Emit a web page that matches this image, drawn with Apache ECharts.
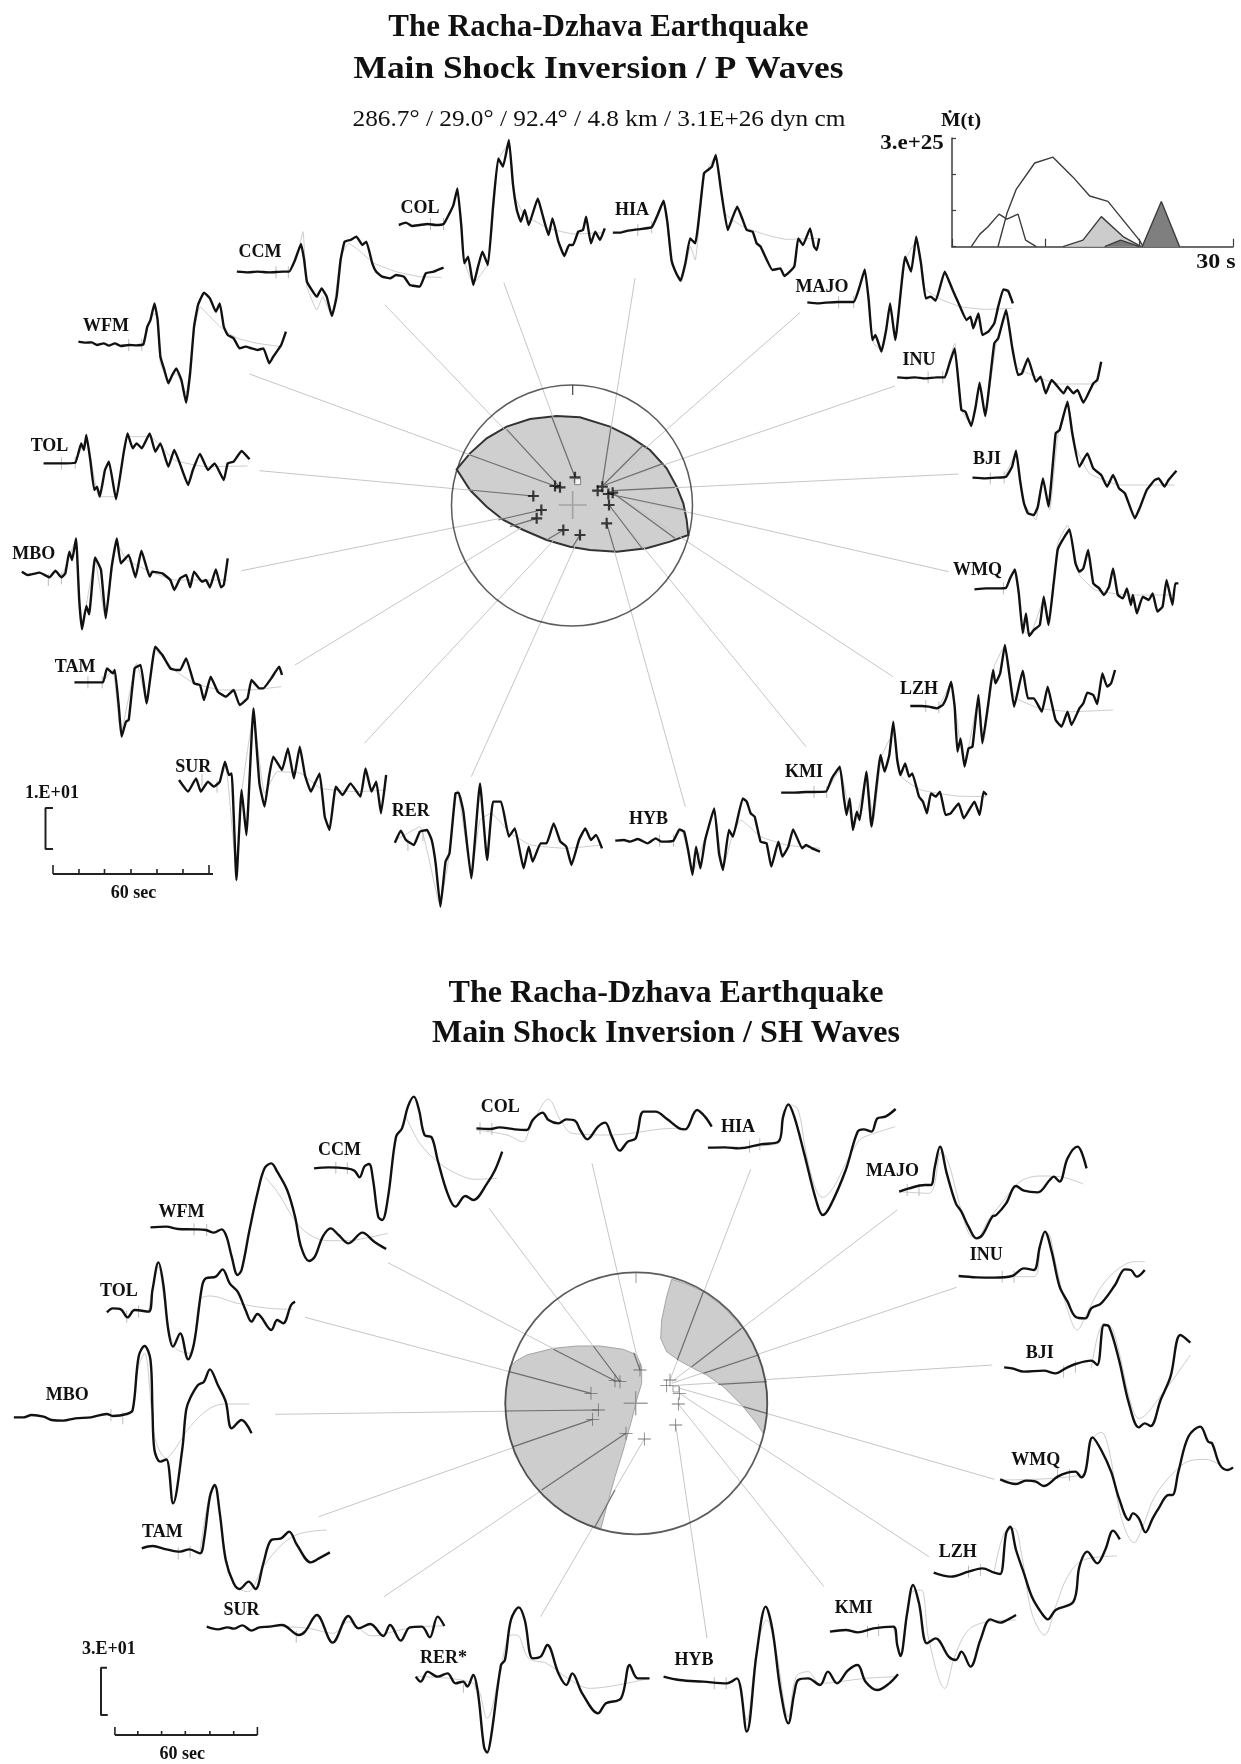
<!DOCTYPE html>
<html>
<head>
<meta charset="utf-8">
<title>The Racha-Dzhava Earthquake</title>
<script src="https://cdn.jsdelivr.net/npm/echarts@6/dist/echarts.min.js"></script>
<style>
html,body{margin:0;padding:0;background:#fff;}
#main{width:1241px;height:1764px;}
</style>
</head>
<body>
<div id="main"></div>
<script>
const ZX = 2.525, ZY = 3;
const A = [0,100], B = [620,90], C = [0,500], D = [620,500];
const E = [0,1060], F = [620,1060], G = [0,1400], H = [620,1400];

//---------- P waves: observed
const pWFM = [198,725,215,728,232,727,245,735,262,730,275,737,290,730,305,738,325,735,345,736,362,733,372,680,380,660,390,610,398,660,405,770,415,810,425,850,435,825,445,805,458,840,470,908,480,820,490,680,500,615,515,578,530,595,545,635,555,610,565,680,575,705,590,715,605,745,620,740,635,745,650,750,665,745,680,790,690,770,710,735,722,695];
const pCCM = [598,515,625,517,650,515,680,517,715,515,730,515,745,480,760,432,768,480,775,545,790,575,800,590,812,565,825,590,838,648,850,590,860,480,870,425,885,420,900,410,915,435,925,425,940,490,950,515,965,530,985,535,1000,525,1020,530,1035,555,1060,560,1075,520,1095,515,1120,503];
const pCOL = [1007,375,1025,368,1040,378,1060,375,1080,372,1100,375,1120,372,1135,340,1145,315,1155,265,1165,380,1172,490,1182,470,1195,555,1207,500,1218,455,1232,495,1245,320,1258,175,1270,200,1285,120,1295,250,1305,330,1315,365,1325,330,1335,375,1358,295,1370,345,1385,405,1395,355,1410,425,1425,468,1437,435,1447,435,1460,395,1472,390,1480,350,1492,430,1503,395,1515,420,1527,385];
const pHIA = [-18,428,0,428,20,422,45,418,80,412,95,375,110,332,120,400,130,510,142,550,153,572,165,520,177,445,190,460,212,250,222,240,232,230,242,195,255,300,272,420,285,380,296,350,310,390,320,420,335,425,345,460,355,470,385,540,405,535,415,558,440,530,450,445,462,465,480,415,490,470,497,480,503,445];
const pMAJO = [473,637,500,640,520,638,550,636,590,636,605,590,618,538,628,630,637,750,645,735,660,785,672,720,682,640,695,750,720,500,735,545,748,440,760,520,772,625,785,620,797,632,820,545,840,600,855,640,875,690,885,680,892,715,905,670,915,735,930,725,945,700,955,650,968,598,980,603,992,640];
const pINU = [700,862,725,864,745,862,770,865,800,862,820,862,832,820,845,775,855,880,862,960,872,965,887,1008,898,950,908,878,922,978,945,760,955,745,975,660,990,770,1005,855,1015,850,1030,805,1050,875,1062,860,1075,910,1090,870,1120,910,1130,890,1145,910,1155,900,1170,938,1195,880,1205,870,1215,815];
const pBJI = [890,1163,920,1165,950,1163,975,1160,990,1130,1000,1082,1010,1170,1020,1240,1030,1270,1045,1275,1055,1250,1068,1165,1082,1250,1100,1030,1110,1020,1130,935,1142,1030,1160,1130,1180,1090,1195,1135,1215,1155,1230,1190,1245,1155,1260,1195,1275,1210,1300,1285,1312,1255,1330,1200,1350,1170,1360,1165,1375,1190,1385,1170,1405,1142];
const pWMQ = [895,268,925,265,950,265,975,263,985,235,997,208,1007,280,1017,400,1025,340,1033,408,1045,390,1060,375,1070,290,1082,375,1095,250,1105,150,1115,125,1135,88,1150,190,1160,215,1170,205,1182,150,1195,250,1210,265,1222,285,1235,260,1245,205,1257,285,1270,295,1280,265,1290,315,1295,285,1305,340,1320,290,1335,300,1345,280,1357,335,1370,320,1380,240,1395,315,1402,250,1410,250];
const pLZH = [733,618,760,618,780,620,800,625,815,615,825,590,836,545,845,620,852,755,860,715,870,800,880,745,890,740,905,585,915,730,930,610,942,510,948,550,960,520,972,435,985,540,995,620,1017,512,1030,595,1045,595,1065,635,1080,560,1090,610,1100,660,1115,680,1130,635,1140,675,1160,625,1170,610,1180,578,1195,585,1205,612,1218,520,1230,560,1240,550,1250,510];
const pKMI = [407,878,440,878,470,876,520,875,535,835,555,800,565,890,572,945,580,895,588,990,598,935,605,960,622,815,635,980,658,765,668,815,680,765,690,665,700,780,708,825,720,790,730,830,738,820,755,890,765,905,775,940,785,880,797,890,808,875,822,945,835,940,855,910,868,955,895,905,908,945,918,875,926,885];
const pHYB = [-12,1022,10,1020,25,1025,45,1017,70,1030,90,1015,105,1025,135,1022,150,988,162,995,172,1050,183,1125,192,1040,203,1105,215,1020,238,925,250,1060,260,1110,275,990,285,1010,310,895,320,905,330,940,340,950,355,1025,370,1030,382,1100,400,1025,410,1070,425,1040,437,988,460,1045,470,1035,485,1045,505,1055];
const pRER = [997,1028,1012,992,1025,1020,1045,1035,1060,995,1078,990,1090,1020,1100,1090,1112,1220,1125,1085,1135,1060,1150,880,1158,878,1170,935,1190,1135,1212,850,1230,1080,1245,905,1265,905,1285,1010,1300,985,1322,1105,1335,1040,1345,1085,1365,1030,1380,1030,1398,970,1415,1025,1430,1040,1443,1095,1462,1020,1478,985,1492,1020,1505,1005,1520,1045];
const pSUR = [452,840,475,875,495,835,507,875,525,845,540,860,555,845,568,785,578,825,585,820,597,1140,610,870,622,1005,640,625,655,850,668,920,680,825,690,770,712,810,727,745,742,835,757,740,770,825,785,875,795,850,807,820,820,950,832,990,848,860,865,885,885,850,910,890,923,805,938,875,950,845,962,940,975,825];
const pTAM = [188,547,220,547,260,547,270,505,285,520,290,510,300,620,307,710,318,665,325,660,340,505,355,495,370,610,392,440,410,465,430,505,445,510,455,510,470,475,490,550,505,555,515,600,532,530,550,575,570,590,590,570,605,615,625,595,635,540,655,565,665,565,685,535,705,500,712,525];
const pMBO = [55,215,70,225,100,218,125,232,140,212,155,232,165,220,175,155,182,180,192,115,200,300,207,388,218,318,225,343,240,172,255,210,267,355,282,200,295,115,305,190,325,165,342,232,357,152,378,230,385,215,410,220,430,240,440,270,455,235,470,225,480,262,490,215,510,245,520,240,530,262,545,208,558,262,565,255,575,175];
const pTOL = [110,1090,150,1090,190,1088,205,1030,212,1050,218,1005,228,1080,238,1170,245,1160,252,1190,265,1110,275,1085,293,1198,312,1060,322,1000,335,1045,345,1030,358,1045,378,1000,392,1055,405,1030,425,1100,440,1050,460,1110,475,1155,487,1110,505,1062,525,1110,542,1090,565,1140,575,1090,590,1085,610,1053,630,1078];

//---------- P waves: synthetic
const pmWFM = [362,733,380,650,395,640,405,790,425,840,445,820,470,880,490,690,505,620,530,650,565,690,600,715,650,730,710,740];
const pmCCM = [730,515,750,470,765,395,775,560,800,630,815,590,838,650,860,470,880,430,905,450,945,490,1000,515,1060,530,1115,532];
const pmCOL = [1125,370,1155,280,1172,480,1195,550,1232,490,1258,180,1285,130,1300,290,1325,345,1385,385,1450,402,1520,398];
const pmHIA = [80,412,110,330,130,520,155,575,178,470,190,510,212,260,240,200,265,370,310,410,370,435,420,448,500,445];
const pmMAJO = [590,636,618,545,640,760,662,780,682,650,695,750,720,510,750,450,770,595,810,628,860,650,920,658,990,655];
const pmINU = [820,862,845,760,862,960,887,1005,908,880,922,975,950,760,975,680,1000,830,1050,860,1110,882,1205,882];
const pmBJI = [970,1162,1000,1090,1020,1240,1050,1290,1068,1170,1085,1260,1105,1040,1130,935,1150,1070,1185,1150,1260,1185,1400,1185];
const pmWMQ = [975,263,997,210,1017,390,1035,405,1070,300,1085,370,1105,130,1130,75,1160,225,1200,270,1280,285,1400,285];
const pmLZH = [805,622,836,550,860,740,870,790,905,600,918,725,945,500,972,435,995,590,1060,625,1140,635,1245,630];
const pmKMI = [522,875,555,810,590,985,622,830,640,960,660,770,690,700,710,830,760,870,850,888,925,890];
const pmHYB = [135,1022,155,990,185,1110,238,935,260,1105,285,1000,305,960,355,1010,420,1035,505,1045];
const pmRER = [1000,1020,1060,980,1110,1210,1130,1100,1155,870,1190,1120,1212,960,1240,940,1290,1000,1340,1035,1430,1045,1520,1035];
const pmSUR = [548,860,570,800,597,1120,610,880,640,650,668,880,700,815,760,820,810,865,900,875,975,870];
const pmTAM = [258,547,285,510,305,700,345,490,370,600,392,450,440,510,490,550,560,570,630,570,710,560];
const pmMBO = [155,235,190,125,207,380,240,180,265,350,295,130,320,180,380,215,440,240,520,240,575,240];
const pmTOL = [190,1088,218,1015,250,1190,293,1190,322,1010,380,1010,440,1080,520,1100,625,1098];

//---------- SH waves: observed
const sWFM = [380,502,420,500,450,507,490,508,520,510,540,518,560,508,572,530,585,590,600,645,610,630,630,510,650,400,668,325,685,310,700,335,725,390,745,470,760,560,780,603,795,590,815,530,835,505,855,525,880,550,915,518,945,545,975,567];
const sCCM = [793,325,830,322,875,325,895,332,908,352,920,320,932,312,942,360,955,470,965,480,980,410,1000,230,1015,205,1030,140,1045,110,1058,150,1072,225,1090,232,1105,300,1130,400,1150,440,1175,408,1195,420,1230,370,1250,330,1268,275];
const sCOL = [1203,205,1240,207,1260,202,1300,208,1330,210,1345,180,1370,158,1385,180,1410,190,1430,178,1452,182,1465,210,1483,238,1510,200,1528,188,1545,230,1565,272,1585,245,1605,235,1625,155,1655,155,1685,178,1715,205,1730,208,1760,150,1780,170,1797,200];
const sHIA = [222,263,265,262,300,265,355,253,400,245,412,170,425,133,440,170,465,280,495,420,512,465,530,440,570,330,600,215,615,208,635,215,650,175,670,170,696,147];
const sMAJO = [705,395,730,385,770,375,785,375,795,320,808,260,825,340,848,430,862,455,880,500,900,535,915,525,940,470,950,465,975,430,1000,378,1020,392,1055,397,1085,360,1095,350,1110,365,1130,295,1155,260,1165,275,1178,325];
const sINU = [855,648,900,652,945,653,990,648,1020,625,1045,630,1060,560,1073,515,1090,575,1110,680,1130,725,1150,770,1175,775,1190,745,1215,730,1250,675,1275,628,1290,630,1305,650,1325,630];
const sBJI = [970,922,990,925,1020,935,1070,932,1100,940,1125,925,1150,912,1190,902,1205,915,1222,795,1235,800,1260,900,1285,1030,1310,1102,1325,1090,1340,1098,1365,1020,1390,950,1415,825,1440,848];
const sWMQ = [960,238,1000,252,1025,242,1050,245,1070,258,1105,230,1130,218,1150,215,1165,232,1175,215,1193,112,1215,150,1240,215,1260,295,1285,360,1295,340,1310,355,1327,397,1345,355,1360,325,1385,285,1395,285,1410,215,1435,110,1465,80,1485,125,1495,130,1515,195,1535,210,1548,202];
const sLZH = [792,518,835,530,880,515,915,505,945,518,960,522,975,400,985,380,1000,450,1020,520,1040,590,1065,640,1080,658,1100,630,1145,605,1160,500,1180,455,1205,490,1225,450,1245,392,1262,418];
const sKMI = [530,695,570,690,600,697,640,685,690,680,700,735,708,768,725,640,740,555,755,610,775,730,797,715,830,770,848,780,862,755,885,800,910,720,935,658,960,668,985,655,1000,645];
const sHYB = [110,830,150,840,210,845,270,850,295,835,320,995,345,760,368,620,385,690,405,870,425,970,440,880,450,840,475,835,505,855,525,815,548,850,575,812,600,795,620,845,650,870,680,850,702,823];
const sRER = [1050,830,1062,845,1080,815,1105,830,1130,820,1150,850,1170,845,1180,860,1195,825,1207,880,1222,1040,1230,1058,1240,1010,1265,795,1275,780,1290,660,1310,622,1325,660,1345,775,1365,770,1382,735,1410,820,1430,855,1445,820,1470,880,1510,940,1530,910,1568,895,1590,795,1610,835,1640,835];
const sSUR = [522,680,550,688,575,682,590,686,612,676,635,692,655,682,680,680,712,675,755,705,770,695,800,645,840,728,880,648,905,685,935,672,968,708,985,675,1012,722,1035,682,1065,680,1085,712,1105,650,1122,678];
const sTAM = [358,445,385,438,420,448,455,455,478,448,505,460,515,420,530,290,542,255,555,340,570,480,590,550,605,567,628,545,645,567,665,490,685,420,710,415,730,395,750,435,785,487,810,472,833,457];
const sMBO = [35,52,60,52,80,45,110,50,130,60,160,62,190,55,230,52,270,42,285,48,320,42,335,30,350,-130,365,-162,380,-120,385,30,390,150,405,185,420,178,437,310,460,150,470,30,480,-5,500,-45,515,-55,530,-92,550,-45,570,5,585,85,610,60,635,100];
const sTOL = [270,757,285,745,305,748,322,772,340,750,375,755,385,690,400,607,412,670,425,810,437,860,455,820,475,898,490,850,510,680,520,655,545,650,562,628,580,670,600,695,620,750,635,785,650,762,685,810,700,780,715,790,735,735,745,725];

//---------- SH waves: synthetic
const smWFM = [668,350,700,395,750,490,790,530,830,542,880,542,920,535,980,520];
const smCCM = [1025,170,1060,250,1110,310,1160,345,1200,358,1255,355];
const smCOL = [1203,210,1280,225,1320,245,1340,200,1385,118,1415,180,1445,220,1540,225,1580,222,1700,205,1730,205];
const smHIA = [222,263,400,250,412,160,430,135,450,150,470,280,495,390,512,412,540,380,570,310,605,240,630,225,695,200];
const smMAJO = [705,395,780,400,812,275,830,310,850,400,880,520,900,535,930,480,970,420,1010,365,1060,348,1110,350,1170,372];
const smINU = [990,650,1045,650,1065,540,1080,520,1100,610,1125,730,1155,810,1175,770,1215,680,1260,625,1300,605,1325,605];
const smBJI = [1190,925,1222,790,1245,810,1290,1030,1310,1075,1370,1000,1440,885];
const smWMQ = [960,240,1165,225,1190,120,1215,97,1235,150,1265,350,1298,428,1320,380,1350,290,1400,215,1440,182,1480,178,1515,195];
const smLZH = [945,515,970,400,995,385,1015,470,1040,640,1072,705,1100,620,1130,530,1170,480,1255,468];
const smKMI = [690,680,708,760,735,580,760,570,780,720,820,865,845,770,880,690,930,665,1000,660];
const smHYB = [300,840,320,960,345,750,370,660,395,760,425,950,445,830,475,815,505,850,620,835,700,830];
const smRER = [1050,830,1195,850,1230,955,1260,830,1290,705,1305,705,1335,775,1380,790,1440,840,1490,865,1560,855,1640,835];
const smSUR = [712,680,780,685,840,700,880,665,940,708,1010,690,1060,680,1120,678];
const smTAM = [505,455,530,280,545,260,560,400,590,550,625,575,665,500,715,430,760,400,825,390];
const smMBO = [335,40,350,-100,365,-140,385,60,395,130,420,175,440,150,480,80,530,25,570,12,630,12];
const smTOL = [375,755,400,620,415,720,440,860,480,880,505,720,530,708,600,730,680,745,740,748];

// station, crop, observed, synthetic, onset ticks
const pStations = [
  ['WFM',A,pWFM,pmWFM,[325,735,358,735]],['CCM',A,pCCM,pmCCM,[697,517,728,517]],
  ['COL',A,pCOL,pmCOL,[1087,372,1120,372]],['HIA',B,pHIA,pmHIA,[45,420,80,412]],
  ['MAJO',B,pMAJO,pmMAJO,[552,637,590,636]],['INU',B,pINU,pmINU,[778,862,815,862]],
  ['BJI',B,pBJI,pmBJI,[935,1165,970,1162]],['WMQ',D,pWMQ,pmWMQ,[968,265]],
  ['LZH',D,pLZH,pmLZH,[772,618,805,622]],['KMI',D,pKMI,pmKMI,[490,876,522,876]],
  ['HYB',D,pHYB,pmHYB,[100,1022,135,1022]],['RER',C,pRER,pmRER,[1030,1035,1068,1005]],
  ['SUR',C,pSUR,pmSUR,[510,840,548,860]],['TAM',C,pTAM,pmTAM,[222,547,258,547]],
  ['MBO',C,pMBO,pmMBO,[122,240,155,235]],['TOL',A,pTOL,pmTOL,[155,1090,190,1088]]
];
const sStations = [
  ['WFM',E,sWFM,smWFM,[490,508,522,510]],['CCM',E,sCCM,smCCM,[848,323,877,325]],
  ['COL',E,sCOL,smCOL,[1212,205,1242,207]],['HIA',F,sHIA,smHIA,[327,260,353,253]],
  ['MAJO',F,sMAJO,smMAJO,[725,390,755,390]],['INU',F,sINU,smINU,[965,650,995,650]],
  ['BJI',F,sBJI,smBJI,[1120,935,1150,920]],['WMQ',H,sWMQ,smWMQ,[1105,220,1135,225]],
  ['LZH',H,sLZH,smLZH,[880,515,910,510]],['KMI',H,sKMI,smKMI,[625,695,653,690]],
  ['HYB',H,sHYB,smHYB,[238,850,268,850]],['RER*',G,sRER,smRER,[1170,860,1200,850]],
  ['SUR',G,sSUR,smSUR,[748,710]],['TAM',G,sTAM,smTAM,[450,460,480,455]],
  ['MBO',G,sMBO,smMBO,[280,45,310,55]],['TOL',E,sTOL,smTOL,[320,770,350,755]]
];

//---------- focal spheres, crop units of the 3x zooms
const P_ORIGIN = [430,370], SH_ORIGIN = [490,1260];
const pLobe = [80,298,120,250,170,205,230,170,300,147,380,138,450,142,540,170,600,200,660,240,710,295,740,350,760,400,770,450,775,495,720,515,650,535,560,545,480,540,420,530,350,510,280,480,220,450,170,410,120,360];
const shLobeL = [60,320,75,305,110,285,190,265,260,258,330,258,400,268,440,285,455,320,455,370,440,420,425,480,400,570,375,650,350,740,333,805,270,786,210,750,155,700,110,645,75,585,55,520,45,430,50,370];
const shLobeR = [545,58,530,110,515,180,512,235,530,275,565,300,610,325,650,345,700,380,760,440,800,490,820,520,830,460,832,400,815,320,790,255,755,200,700,140,640,95,590,72];
const pPlus = [435,322,375,348,390,352,517,350,503,362,535,372,548,368,537,405,530,460,450,495,400,480,320,445,334,420,310,378];
const shPlus = [375,362,390,365,450,330,303,400,325,450,308,478,408,520,463,537,540,360,530,377,568,400,565,432,557,495];

// rays: outer end then station, page pixels
const pRays = [[503.8,282.7,575,477.3],[385,305,560,487.3],[249.5,374,555,486],[259.4,470.7,533.3,496],[241.6,570.7,541.3,510],[295,665,536.7,518.3],[364.4,743.3,563.3,530],[471.3,776.7,580,535],[685.3,806.7,606.7,523.3],[806,746.7,609,505],[893,676.7,612.7,492.7],[948.7,571.7,608.3,494],[958.6,474,612.7,490.7],[895,386,605,485],[800,312.7,603.3,485],[635,278.3,602.3,483.3]];
const shRays = [[592,1163.3,640,1370],[489,1208.3,620,1381.7],[388,1262.7,615,1380.7],[305,1317.3,591,1393.3],[275.2,1414.3,598.3,1410],[318.8,1516.7,592.7,1419.3],[384,1596.7,626,1433.3],[540.6,1616.7,644.3,1439],[707,1638.3,675.7,1425],[824,1586.7,678.3,1404],[928.9,1556.7,679.3,1393.3],[994.3,1479.3,680,1388.3],[992.3,1365,671.7,1385.7],[956.6,1287.3,671.7,1383.3],[897.2,1210,671.7,1381.7],[750.7,1169.3,670,1380]];
// the parts of the rays that run across the shaded lobes, crop units
const pRaysDark = [[365,140,435,322],[230,178,390,352],[120,255,375,348],[118,360,310,378],[205,450,334,420],[240,470,320,445],[350,510,400,480],[428,530,450,495],[555,545,530,460],[640,540,537,405],[735,505,548,368],[765,420,535,372],[735,352,548,362],[700,280,525,345],[640,225,520,345],[543,170,517,340]];
const shRaysDark = [[431,278,450,330],[310,258,390,365],[190,268,375,362],[58,335,303,400],[45,453,325,450],[70,560,308,478],[155,690,408,520],[315,800,375,690],[640,95,562,300],[755,205,605,320],[805,285,640,340],[830,365,685,373],[830,460,760,440]];

//---------- source time function, t in s, rate in 1e25
const stfEarlyT = [2.06,2.95,3.84,5.02,5.87,7.05,7.86,9.0];
const stfEarly = [0,0.34,0.55,0.90,0.76,0.90,0.18,0];
const stfMainT = [4.91,5.87,6.87,8.83,10.78,12.92,14.7,16.65,20.0,20.4];
const stfMain = [0,0.92,1.59,2.31,2.47,1.92,1.40,1.25,0.18,0];
const stfLightT = [11.85,13.98,15.94,18.26,20.2];
const stfLight = [0,0.18,0.83,0.28,0];
const stfMidT = [16.3,18.0,20.0];
const stfMid = [0,0.18,0];
const stfDarkT = [20.3,22.35,24.3];
const stfDark = [0,1.25,0];

function cropPts(list, org, zx, zy) {
    let out = [];
    for (let i = 0; i < list.length; i += 2) {
        out.push([org[0] + list[i] / zx, org[1] + list[i + 1] / zy]);
    }
    return out;
}

function zipPts(a, b) {
    return a.map(function (v, i) { return [v, b[i]]; });
}

function lineSeries(data, color, width, z, smooth, extra) {
    return Object.assign({
        type: 'line', data: data, xAxisIndex: 0, yAxisIndex: 0,
        showSymbol: false, symbol: 'none', silent: true, animation: false, z: z,
        smooth: smooth || false,
        lineStyle: { color: color, width: width }
    }, extra || {});
}

function polySeries(points, fill, stroke, width, z) {
    return {
        type: 'custom', xAxisIndex: 0, yAxisIndex: 0, silent: true, animation: false, z: z,
        clip: false, data: [points[0]],
        renderItem: function (params, api) {
            return {
                type: 'polygon',
                shape: { points: points.map(function (p) { return api.coord(p); }) },
                style: { fill: fill, stroke: stroke, lineWidth: width }
            };
        }
    };
}

function markSeries(data, path, size, color, z) {
    return {
        type: 'scatter', xAxisIndex: 0, yAxisIndex: 0, silent: true, animation: false, z: z,
        symbol: path, symbolSize: size, data: data, itemStyle: { color: color }
    };
}

const PLUS_BOLD = 'path://M-1,-5L1,-5L1,-1L5,-1L5,1L1,1L1,5L-1,5L-1,1L-5,1L-5,-1L-1,-1Z';
const PLUS_THIN = 'path://M-0.3,-5L0.3,-5L0.3,-0.3L5,-0.3L5,0.3L0.3,0.3L0.3,5L-0.3,5L-0.3,0.3L-5,0.3L-5,-0.3L-0.3,-0.3Z';

let series = [];

function addStations(list, smooth) {
    list.forEach(function (st) {
        let org = st[1];
        series.push(lineSeries(cropPts(st[3], org, ZX, ZY), '#cccccc', 1, 3, smooth));
        series.push(lineSeries(cropPts(st[2], org, ZX, ZY), '#111111', 2.4, 5, smooth));
        let tk = st[4];
        for (let i = 0; i < tk.length; i += 2) {
            let x = org[0] + tk[i] / ZX, y = org[1] + tk[i + 1] / ZY;
            series.push(lineSeries([[x, y - 6], [x, y + 6]], '#bbbbbb', 1, 4));
        }
    });
}
addStations(pStations, 0.12);
addStations(sStations, 0.35);

// rays under the lobes' outline
pRays.concat(shRays).forEach(function (r) {
    series.push(lineSeries([[r[0], r[1]], [r[2], r[3]]], '#c6c6c6', 1, 2));
});

// lobes
series.push(polySeries(cropPts(pLobe, P_ORIGIN, 3, 3), '#cfcfcf', '#333333', 2, 1));
series.push(polySeries(cropPts(shLobeL, SH_ORIGIN, 3, 3), '#cdcdcd', '#a5a5a5', 1, 1));
series.push(polySeries(cropPts(shLobeR, SH_ORIGIN, 3, 3), '#cdcdcd', '#a5a5a5', 1, 1));

pRaysDark.forEach(function (r) {
    series.push(lineSeries(cropPts(r, P_ORIGIN, 3, 3), '#6e6e6e', 1.2, 6));
});
shRaysDark.forEach(function (r) {
    series.push(lineSeries(cropPts(r, SH_ORIGIN, 3, 3), '#6e6e6e', 1.2, 6));
});

// spheres
series.push({
    type: 'scatter', xAxisIndex: 0, yAxisIndex: 0, silent: true, animation: false, z: 7,
    symbol: 'circle', symbolSize: 241, data: [[572, 505.5]],
    itemStyle: { color: 'rgba(0,0,0,0)', borderColor: '#333333', borderWidth: 1.5 }
});
series.push({
    type: 'scatter', xAxisIndex: 0, yAxisIndex: 0, silent: true, animation: false, z: 7,
    symbol: 'circle', symbolSize: 262, data: [[636.3, 1403.3]],
    itemStyle: { color: 'rgba(0,0,0,0)', borderColor: '#333333', borderWidth: 1.8 }
});
series.push(lineSeries([[572.7, 385], [572.7, 395]], '#444444', 1.2, 7));
series.push(lineSeries([[636, 1273], [636, 1283]], '#999999', 1, 7));

// station crosses, centre crosses, open squares
series.push(markSeries(cropPts(pPlus, P_ORIGIN, 3, 3), PLUS_BOLD, 11, '#111111', 8));
series.push(markSeries(cropPts(shPlus, SH_ORIGIN, 3, 3), PLUS_THIN, 13, '#555555', 8));
series.push(markSeries(cropPts([428, 405], P_ORIGIN, 3, 3), PLUS_THIN, 28, '#999999', 6));
series.push(markSeries(cropPts([437, 430], SH_ORIGIN, 3, 3), PLUS_THIN, 24, '#888888', 6));
series.push({
    type: 'scatter', xAxisIndex: 0, yAxisIndex: 0, silent: true, animation: false, z: 8,
    symbol: 'rect', symbolSize: 6, data: cropPts([443, 335], P_ORIGIN, 3, 3),
    itemStyle: { color: '#ffffff', borderColor: '#666666', borderWidth: 1 }
});
series.push({
    type: 'scatter', xAxisIndex: 0, yAxisIndex: 0, silent: true, animation: false, z: 8,
    symbol: 'rect', symbolSize: 6, data: cropPts([558, 387], SH_ORIGIN, 3, 3),
    itemStyle: { color: 'rgba(255,255,255,0)', borderColor: '#888888', borderWidth: 1 }
});

// scale bars
series.push(lineSeries([[53, 808], [45.5, 808], [45.5, 849], [53, 849]], '#222222', 2, 5));
series.push(lineSeries([[53, 874], [213, 874]], '#222222', 2, 5));
[53, 79, 104.5, 131, 157, 183, 209].forEach(function (x, i) {
    let h = (i === 0 || i === 6) ? 9 : 5;
    series.push(lineSeries([[x, 874], [x, 874 - h]], '#222222', 1.6, 5));
});
series.push(lineSeries([[107, 1667.7], [101, 1667.7], [101, 1715], [107.7, 1715]], '#222222', 2, 5));
series.push(lineSeries([[114.9, 1735], [257.4, 1735]], '#222222', 2, 5));
[114.9, 137.8, 161.6, 185.3, 209.9, 233.7, 257.4].forEach(function (x, i) {
    let h = (i === 0 || i === 6) ? 8 : 4;
    series.push(lineSeries([[x, 1735], [x, 1735 - h]], '#222222', 1.6, 5));
});

// source time function, second grid
function stfSeries(t, v, fill, z) {
    let s = {
        type: 'line', data: zipPts(t, v), xAxisIndex: 1, yAxisIndex: 1,
        showSymbol: false, symbol: 'none', silent: true, animation: false, z: z,
        lineStyle: { color: '#3c3c3c', width: 1.4 }
    };
    if (fill) { s.areaStyle = { color: fill, opacity: 1 }; }
    return s;
}
series.push(stfSeries(stfEarlyT, stfEarly, null, 4));
series.push(stfSeries(stfMainT, stfMain, null, 4));
series.push(stfSeries(stfLightT, stfLight, '#cccccc', 5));
series.push(stfSeries(stfMidT, stfMid, '#7a7a7a', 6));
series.push(stfSeries(stfDarkT, stfDark, '#7f7f7f', 6));

//---------- text
function txt(str, x, y, size, sx, weight) {
    return {
        type: 'text', x: x, y: y, scaleX: sx || 1, silent: true, z: 20,
        style: {
            text: str, x: 0, y: 0, fill: '#111111',
            font: (weight || 'bold') + ' ' + size + 'px "Liberation Serif", serif',
            align: 'center', verticalAlign: 'middle'
        }
    };
}

const pLabelPos = { WFM: [106, 326], CCM: [260, 252.7], COL: [420, 208.7], HIA: [632, 210], MAJO: [822, 287.7], INU: [919, 360], BJI: [987, 459.3], WMQ: [977.6, 570.3], LZH: [919, 689.3], KMI: [804, 772], HYB: [648.5, 819.3], RER: [410.7, 811.3], SUR: [193.3, 767], TAM: [75.2, 667], MBO: [33.7, 554.3], TOL: [49.5, 446] };
const sLabelPos = { WFM: [181.4, 1212], CCM: [339.4, 1150.3], COL: [500.2, 1107.7], HIA: [738, 1127], MAJO: [892.5, 1171], INU: [986.3, 1255.3], BJI: [1039.8, 1353.7], WMQ: [1035.8, 1460.3], LZH: [957.8, 1552], KMI: [853.7, 1608.7], HYB: [694, 1660.3], 'RER*': [443.6, 1658.7], SUR: [241.6, 1610.3], TAM: [162.4, 1532], MBO: [67.3, 1395.3], TOL: [118.8, 1291.3] };

let texts = [
    txt('The Racha-Dzhava Earthquake', 598.5, 28, 31, 1.0),
    txt('Main Shock Inversion / P Waves', 598.5, 70, 31, 1.14),
    txt('286.7\u00b0 / 29.0\u00b0 / 92.4\u00b0 / 4.8 km / 3.1E+26 dyn cm', 599, 120, 23, 1.1, 'normal'),
    txt('The Racha-Dzhava Earthquake', 666, 994, 31, 1.035),
    txt('Main Shock Inversion / SH Waves', 666, 1034, 31, 1.035),
    txt('\u1e40(t)', 961, 121.7, 18, 1.15),
    txt('3.e+25', 912, 144, 20, 1.15),
    txt('30 s', 1216, 262.7, 20, 1.2),
    txt('1.E+01', 52, 793, 18),
    txt('60 sec', 133.5, 893.3, 18),
    txt('3.E+01', 108.9, 1649.3, 18),
    txt('60 sec', 182.2, 1754, 18)
];
Object.keys(pLabelPos).forEach(function (k) { texts.push(txt(k, pLabelPos[k][0], pLabelPos[k][1], 18)); });
Object.keys(sLabelPos).forEach(function (k) { texts.push(txt(k, sLabelPos[k][0], sLabelPos[k][1], 18)); });

const stfAxisLine = { show: true, onZero: false, lineStyle: { color: '#3c3c3c', width: 1.5 } };

var myChart = echarts.init(document.getElementById('main'), null, { renderer: 'canvas' });
myChart.setOption({
    animation: false,
    backgroundColor: '#ffffff',
    grid: [
        { left: 0, top: 0, width: 1241, height: 1764 },
        { left: 952, top: 138, width: 281, height: 108.7, z: 3 }
    ],
    xAxis: [
        { type: 'value', min: 0, max: 1241, show: false, gridIndex: 0 },
        { type: 'value', min: 0, max: 30, interval: 10, gridIndex: 1,
          axisLine: stfAxisLine, axisLabel: { show: false }, splitLine: { show: false },
          axisTick: { show: true, inside: true, length: 8, lineStyle: { color: '#3c3c3c', width: 1.2 } } }
    ],
    yAxis: [
        { type: 'value', min: 0, max: 1764, inverse: true, show: false, gridIndex: 0 },
        { type: 'value', min: 0, max: 3, interval: 1, gridIndex: 1,
          axisLine: stfAxisLine, axisLabel: { show: false }, splitLine: { show: false },
          axisTick: { show: true, inside: true, length: 4, lineStyle: { color: '#3c3c3c', width: 1.2 } } }
    ],
    graphic: { elements: texts },
    series: series
});
</script>
</body>
</html>
